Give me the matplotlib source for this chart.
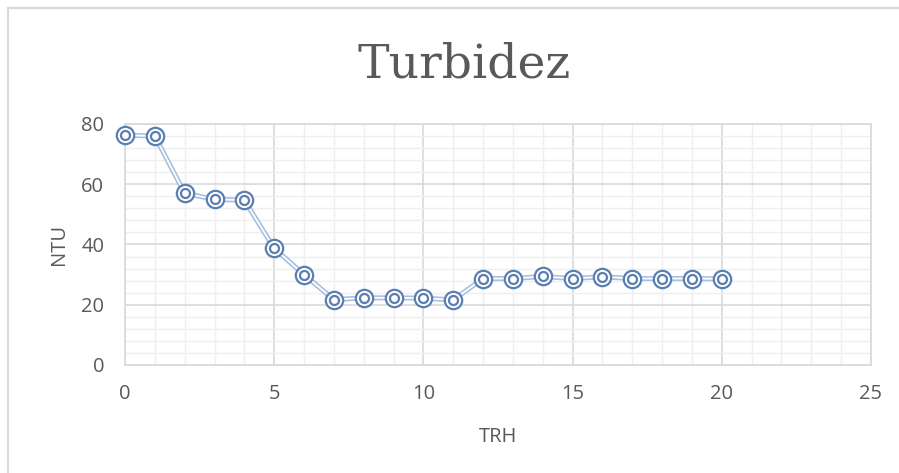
import matplotlib
matplotlib.use("Agg")
import matplotlib.pyplot as plt
from matplotlib.ticker import MultipleLocator
from matplotlib.lines import Line2D

trh = list(range(21))
ntu = [76.3, 76.0, 57.0, 55.0, 54.7, 38.7, 30.0, 21.7, 22.3, 22.3, 22.2, 21.6,
       28.7, 28.7, 29.4, 28.7, 29.3, 28.7, 28.7, 28.7, 28.6]
x_ticks = [0, 5, 10, 15, 20, 25]
y_ticks = [0, 20, 40, 60, 80]

W, H = 899, 473
fig = plt.figure(figsize=(W / 100, H / 100), dpi=100)
ax = fig.add_axes([125 / W, 1 - 365 / H, (871 - 125) / W, (365 - 124) / H])

# outer chart frame (only top/left visible in the reference)
fig.add_artist(Line2D([8 / W, 8 / W], [0, 1 - 8 / H], color="#d9d9d9", lw=1.5))
fig.add_artist(Line2D([8 / W, 1], [1 - 8 / H, 1 - 8 / H], color="#d9d9d9", lw=1.5))

ax.set_xlim(0, 25)
ax.set_ylim(0, 80)
ax.set_xticks(x_ticks)
ax.set_yticks(y_ticks)
ax.xaxis.set_minor_locator(MultipleLocator(1))
ax.yaxis.set_minor_locator(MultipleLocator(4))
ax.grid(which="major", color="#d9d9d9", lw=1.2)
ax.grid(which="minor", color="#efefef", lw=1.0)
ax.set_axisbelow(True)
for s in ax.spines.values():
    s.set_color("#d9d9d9")
    s.set_linewidth(1.2)
ax.tick_params(which="both", length=0, labelsize=14.5, labelcolor="#595959")
ax.tick_params(axis="x", pad=14)
ax.tick_params(axis="y", pad=15)
for lab in ax.get_xticklabels() + ax.get_yticklabels():
    lab.set_fontfamily("Open Sans")

# double line look
ax.plot(trh, ntu, color="#a4bfe0", lw=3.6, solid_joinstyle="round", zorder=3)
ax.plot(trh, ntu, color="white", lw=1.3, solid_joinstyle="round", zorder=4)
# double circle markers
ax.plot(trh, ntu, ls="none", marker="o", ms=12.5, mfc="white", mec="#5b7fb0",
        mew=1.6, zorder=5, clip_on=False)
ax.plot(trh, ntu, ls="none", marker="o", ms=6.5, mfc="none", mec="#5b7fb0",
        mew=1.6, zorder=6, clip_on=False)

fig.text(498 / W, 1 - 437 / H, "TRH", ha="center", va="center", fontsize=14.5,
         color="#595959", family="Open Sans")
fig.text(59.5 / W, 1 - 244 / H, "NTU", ha="center", va="center", rotation=90,
         fontsize=14.5, color="#595959", family="Open Sans")
fig.text(464 / W, 1 - 78 / H, "Turbidez", ha="center", va="baseline", fontsize=34,
         color="#595959", family="DejaVu Serif")

fig.savefig("out.png", dpi=100)
